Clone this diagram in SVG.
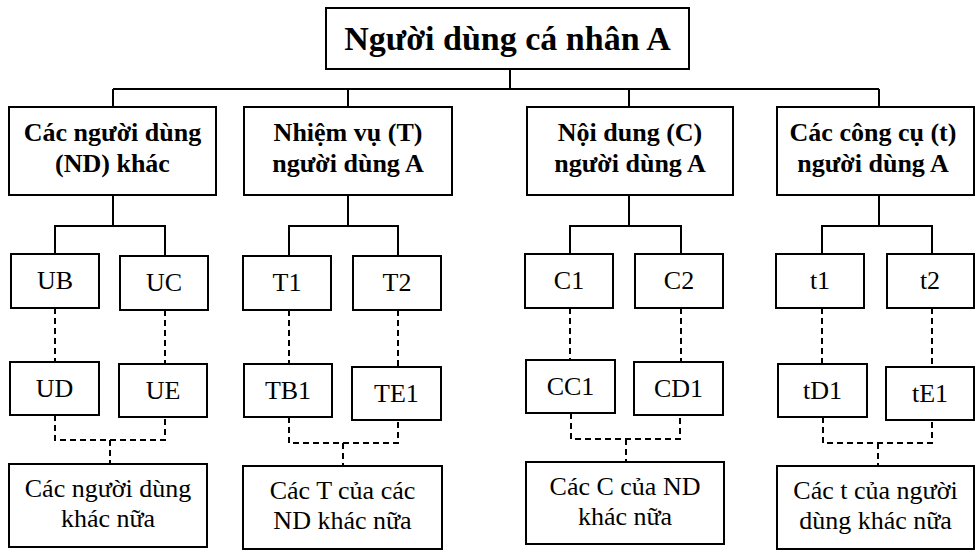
<svg xmlns="http://www.w3.org/2000/svg" width="976" height="550" viewBox="0 0 976 550">
<style>
rect{fill:#fff;stroke:#000;stroke-width:2}
text{font-family:'Times New Roman','Liberation Serif',Tinos,'DejaVu Serif',serif;fill:#000;text-anchor:middle}
.t0{font-size:34px;font-weight:bold}
.t1{font-size:26px;font-weight:bold}
.t2{font-size:26px}
.ln{fill:none;stroke:#000;stroke-width:2}
.ds{fill:none;stroke:#000;stroke-width:2;stroke-dasharray:6 4}
</style>
<rect x="0" y="0" width="976" height="550" style="stroke:none"/>
<g id="connectors">
<path class="ln" d="M510 69V89M113 89H879M113 89V107M348 89V107M629 89V107M879 89V107"/>
<path class="ln" d="M113 195V226M55 254V226H165V256"/>
<path class="ln" d="M348 195V226M289 256V226H398V256"/>
<path class="ln" d="M629 195V226M570 254V226H681V254"/>
<path class="ln" d="M879 195V226M822 254V226H932V254"/>
<path class="ds" d="M55 308V362M165 310V364M289 310V364M398 310V367M570 308V360M681 308V362M822 308V364M932 308V367"/>
<path class="ds" d="M55 415V440H165V417M110 440V464"/>
<path class="ds" d="M289 417V443H398V420M343 443V466"/>
<path class="ds" d="M571 413V439H680V415M626 439V462"/>
<path class="ds" d="M823 417V443H932V420M878 443V466"/>
</g>
<g id="root"><rect x="326" y="8" width="363" height="61"/><text class="t0" x="507.5" y="50">Người dùng cá nhân A</text></g>
<g id="nd"><rect x="9" y="107" width="207" height="88"/><text class="t1" x="112.5" y="141">Các người dùng</text><text class="t1" x="112.5" y="172">(ND) khác</text></g>
<g id="task"><rect x="244" y="107" width="208" height="88"/><text class="t1" x="348" y="141">Nhiệm vụ (T)</text><text class="t1" x="348" y="172">người dùng A</text></g>
<g id="content"><rect x="527" y="107" width="206" height="88"/><text class="t1" x="630" y="141">Nội dung (C)</text><text class="t1" x="630" y="172">người dùng A</text></g>
<g id="tools"><rect x="777" y="107" width="197" height="88"/><text class="t1" x="873" y="141">Các công cụ (t)</text><text class="t1" x="873" y="172">người dùng A</text></g>
<g id="UB"><rect x="11" y="254" width="88" height="54"/><text class="t2" x="55" y="289">UB</text></g>
<g id="UC"><rect x="120" y="256" width="88" height="54"/><text class="t2" x="164" y="291">UC</text></g>
<g id="T1"><rect x="243" y="256" width="88" height="54"/><text class="t2" x="287" y="291">T1</text></g>
<g id="T2"><rect x="353" y="256" width="88" height="54"/><text class="t2" x="397" y="291">T2</text></g>
<g id="C1"><rect x="525" y="254" width="88" height="54"/><text class="t2" x="569" y="289">C1</text></g>
<g id="C2"><rect x="635" y="254" width="88" height="54"/><text class="t2" x="679" y="289">C2</text></g>
<g id="t1"><rect x="776" y="254" width="88" height="54"/><text class="t2" x="820" y="289">t1</text></g>
<g id="t2"><rect x="887" y="254" width="87" height="54"/><text class="t2" x="930" y="289">t2</text></g>
<g id="UD"><rect x="10" y="362" width="89" height="53"/><text class="t2" x="54.5" y="397">UD</text></g>
<g id="UE"><rect x="119" y="364" width="88" height="53"/><text class="t2" x="163" y="399">UE</text></g>
<g id="TB1"><rect x="244" y="364" width="88" height="53"/><text class="t2" x="288" y="399">TB1</text></g>
<g id="TE1"><rect x="352" y="367" width="89" height="53"/><text class="t2" x="396.5" y="402">TE1</text></g>
<g id="CC1"><rect x="526" y="360" width="89" height="53"/><text class="t2" x="570.5" y="395">CC1</text></g>
<g id="CD1"><rect x="634" y="362" width="89" height="53"/><text class="t2" x="678.5" y="397">CD1</text></g>
<g id="tD1"><rect x="778" y="364" width="89" height="53"/><text class="t2" x="822.5" y="399">tD1</text></g>
<g id="tE1"><rect x="886" y="367" width="88" height="53"/><text class="t2" x="930" y="402">tE1</text></g>
<g id="moreU"><rect x="9" y="464" width="198" height="83"/><text class="t2" x="108" y="497">Các người dùng</text><text class="t2" x="108" y="527">khác nữa</text></g>
<g id="moreT"><rect x="243" y="466" width="199" height="83"/><text class="t2" x="342.5" y="499">Các T của các</text><text class="t2" x="342.5" y="529">ND khác nữa</text></g>
<g id="moreC"><rect x="526" y="462" width="198" height="82"/><text class="t2" x="625" y="495">Các C của ND</text><text class="t2" x="625" y="525">khác nữa</text></g>
<g id="moret"><rect x="777" y="466" width="197" height="83"/><text class="t2" x="875.5" y="499">Các t của người</text><text class="t2" x="875.5" y="529">dùng khác nữa</text></g>
</svg>
